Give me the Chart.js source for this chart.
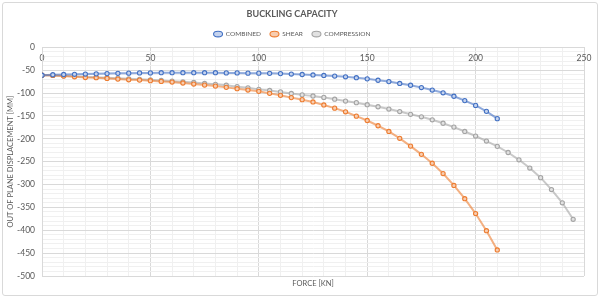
<!DOCTYPE html>
<html>
<head>
<meta charset="utf-8">
<script src="https://cdn.jsdelivr.net/npm/chart.js@4"></script>
<style>
  body { margin: 0; background: #fff; }
  #frame { position: absolute; left: 2px; top: 2px; width: 594px; height: 292px; border: 1px solid #d9d9d9; border-radius: 3px; pointer-events: none; }
  #wrap { position: absolute; left: 0; top: 0; width: 600px; height: 300px; }
</style>
</head>
<body>
<div id="wrap"><canvas id="grafico" width="600" height="300"></canvas></div>
<div id="frame"></div>
<script>
// Force [kN] at each step
const forcaCombined = [0,5,10,15,20,25,30,35,40,45,50,55,60,65,70,75,80,85,90,95,100,105,110,115,120,125,130,135,140,145,150,155,160,165,170,175,180,185,190,195,200,205,210];
const forcaShear = forcaCombined;
const forcaCompression = [0,5,10,15,20,25,30,35,40,45,50,55,60,65,70,75,80,85,90,95,100,105,110,115,120,125,130,135,140,145,150,155,160,165,170,175,180,185,190,195,200,205,210,215,220,225,230,235,240,245];

// Out of plane displacement [mm]
const despCombined = [-61,-60,-59.5,-59,-58.5,-58,-57.5,-57,-56.5,-56,-56,-55.5,-55.5,-55.5,-55.5,-55.5,-55.5,-56,-56,-56.5,-56.5,-57,-57.5,-58.5,-59.5,-60.5,-61.5,-63,-64.5,-66.5,-69,-72,-75,-79,-83,-88,-93.5,-99.5,-107,-116.5,-127,-140,-156];
const despShear = [-61,-61.5,-63,-64.5,-66,-66.5,-68,-69.5,-71,-71.7,-73,-74.6,-76,-78,-80.4,-82.6,-84.8,-87.6,-90.5,-93.5,-96.3,-100.7,-105,-110,-114.5,-119.5,-126,-133,-141,-150.5,-160,-171.5,-184,-199,-216,-234,-253.5,-276,-302,-331,-363.5,-401,-443];
const despCompression = [-61,-61.5,-62.5,-63.5,-64.5,-65.5,-66.5,-67.5,-69,-70,-71,-72.5,-74,-75.5,-77,-79,-81,-83,-86,-88.5,-92,-94.5,-97.5,-101,-104,-106.5,-109.5,-113.5,-117.5,-121,-125.5,-130,-135,-140.5,-146.5,-152,-158.5,-166,-174.5,-184,-194,-205,-216.5,-230,-246,-264,-285,-311,-340,-376];

const nomes = ['COMBINED', 'SHEAR', 'COMPRESSION'];
const cores = ['#4472C4', '#ED7D31', '#A5A5A5'];
const coresClaras = ['#c5d3ee', '#f8cdb0', '#e2e2e2'];

const corTexto = '#595959';
const gradeMaior = '#d9d9d9';
const gradeMenor = '#f0f0f0';
const fonte = 'Lato, "Open Sans", sans-serif';

function pontos(xs, ys) {
    return xs.map((x, i) => ({ x: x, y: ys[i] }));
}

function serie(i, xs, ys) {
    return {
        label: nomes[i],
        data: pontos(xs, ys),
        borderColor: cores[i] + '99',
        borderWidth: 2,
        pointRadius: 2.1,
        pointBorderWidth: 1.1,
        pointBorderColor: cores[i],
        pointBackgroundColor: coresClaras[i],
        pointStyle: 'circle',
        fill: false,
        tension: 0
    };
}

const ctx = document.getElementById('grafico').getContext('2d');
const chart = new Chart(ctx, {
    type: 'line',
    data: {
        datasets: [
            serie(0, forcaCombined, despCombined),
            serie(1, forcaShear, despShear),
            serie(2, forcaCompression, despCompression)
        ]
    },
    options: {
        responsive: false,
        animation: false,
        layout: { padding: { left: 0, right: 16, top: 4, bottom: 0 } },
        plugins: {
            title: {
                display: true,
                text: 'BUCKLING CAPACITY',
                color: corTexto,
                font: { family: fonte, size: 9, weight: 'bold' },
                padding: { top: 5, bottom: 2 }
            },
            legend: {
                display: true,
                labels: {
                    color: corTexto,
                    font: { family: fonte, size: 6.5 },
                    usePointStyle: true,
                    pointStyleWidth: 9,
                    boxHeight: 4,
                    padding: 9
                }
            },
            tooltip: { enabled: false }
        },
        scales: {
            x: {
                type: 'linear',
                position: { y: 0 },
                min: 0,
                max: 250,
                ticks: {
                    stepSize: 10,
                    autoSkip: false,
                    maxRotation: 0,
                    padding: 6,
                    color: corTexto,
                    font: { family: fonte, size: 8.5 },
                    callback: v => (v % 50 === 0 ? v : '')
                },
                grid: {
                    drawTicks: false,
                    color: c => (c.tick && c.tick.value % 50 === 0 ? gradeMaior : gradeMenor)
                },
                border: { display: true, color: gradeMaior }
            },
            x2: {
                type: 'linear',
                position: 'bottom',
                min: 0,
                max: 250,
                ticks: { display: false },
                grid: { display: false, drawTicks: false },
                border: { display: false },
                title: {
                    display: true,
                    text: 'FORCE [KN]',
                    color: corTexto,
                    font: { family: fonte, size: 7.5 },
                    padding: { top: 0, bottom: 12 }
                },
                afterFit: s => { s.height = 24; }
            },
            y: {
                type: 'linear',
                position: 'left',
                min: -500,
                max: 0,
                ticks: {
                    stepSize: 10,
                    autoSkip: false,
                    padding: 7,
                    color: corTexto,
                    font: { family: fonte, size: 8.5 },
                    callback: v => (v % 50 === 0 ? v : '')
                },
                grid: {
                    drawTicks: false,
                    color: c => (c.tick && c.tick.value % 50 === 0 ? gradeMaior : gradeMenor)
                },
                border: { display: true, color: gradeMaior },
                title: {
                    display: true,
                    text: 'OUT OF PLANE DISPLACEMENT [MM]',
                    color: corTexto,
                    font: { family: fonte, size: 7.5 },
                    padding: { top: 6, bottom: 0 }
                },
                afterFit: s => { s.width = 42; }
            }
        }
    }
});
console.log(JSON.stringify(chart.chartArea));
</script>
</body>
</html>
